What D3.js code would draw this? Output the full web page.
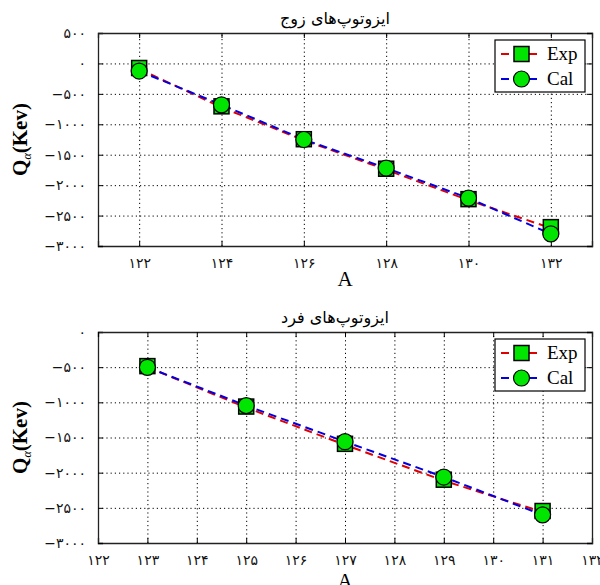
<!DOCTYPE html>
<html>
<head>
<meta charset="utf-8">
<script src="https://cdn.jsdelivr.net/npm/d3@7"></script>
<style>
body { margin: 0; background: #fff; }
svg { display: block; }
</style>
</head>
<body>
<script>
const svgWidth = 600
const svgHeight = 585

// even isotopes
const evenTitle = "ایزوتوپ‌های زوج"
const evenA = [122, 124, 126, 128, 130, 132]
const evenExp = [-75, -705, -1245, -1730, -2230, -2690]
const evenCal = [-125, -680, -1250, -1720, -2213, -2800]
const evenXTicks = [122, 124, 126, 128, 130, 132]
const evenYTicks = [500, 0, -500, -1000, -1500, -2000, -2500, -3000]

// odd isotopes
const oddTitle = "ایزوتوپ‌های فرد"
const oddA = [123, 125, 127, 129, 131]
const oddExp = [-485, -1060, -1590, -2100, -2545]
const oddCal = [-502, -1047, -1559, -2062, -2600]
const oddXTicks = [122, 123, 124, 125, 126, 127, 128, 129, 130, 131, 132]
const oddYTicks = [0, -500, -1000, -1500, -2000, -2500, -3000]

const colorExp = "#e00000"
const colorCal = "#0000e0"
const markerFill = "#00e600"

const faDigits = "۰۱۲۳۴۵۶۷۸۹"
const fa = n => String(n).replace(/\d/g, d => faDigits[d]).replace("-", "−")

const svg = d3.select("body").append("svg")
    .attr("width", svgWidth)
    .attr("height", svgHeight)

function drawPanel(opt) {
    const x = d3.scaleLinear().domain(opt.xDomain).range([opt.left, opt.right])
    const y = d3.scaleLinear().domain(opt.yDomain).range([opt.bottom, opt.top])
    const g = svg.append("g")

    // grid
    g.append("g")
        .attr("transform", `translate(0, ${opt.bottom})`)
        .call(d3.axisBottom(x).tickValues(opt.xTicks).tickSize(-(opt.bottom - opt.top)).tickFormat(""))
        .call(a => a.select(".domain").remove())
        .selectAll("line").attr("stroke", "#000").attr("stroke-dasharray", "1.2,3")
    g.append("g")
        .attr("transform", `translate(${opt.left}, 0)`)
        .call(d3.axisLeft(y).tickValues(opt.yTicks).tickSize(-(opt.right - opt.left)).tickFormat(""))
        .call(a => a.select(".domain").remove())
        .selectAll("line").attr("stroke", "#000").attr("stroke-dasharray", "1.2,3")

    // axes with ticks inside
    g.append("g")
        .attr("transform", `translate(0, ${opt.bottom})`)
        .call(d3.axisBottom(x).tickValues(opt.xTicks).tickSize(-5).tickPadding(12).tickFormat(fa))
    g.append("g")
        .attr("transform", `translate(${opt.left}, 0)`)
        .call(d3.axisLeft(y).tickValues(opt.yTicks).tickSize(-5).tickPadding(12).tickFormat(fa))
    g.append("g")
        .attr("transform", `translate(0, ${opt.top})`)
        .call(d3.axisTop(x).tickValues(opt.xTicks).tickSize(-5).tickFormat(""))
    g.append("g")
        .attr("transform", `translate(${opt.right}, 0)`)
        .call(d3.axisRight(y).tickValues(opt.yTicks).tickSize(-5).tickFormat(""))
    g.selectAll(".domain").attr("stroke", "#222").attr("stroke-width", 1.3)
    g.selectAll(".tick text")
        .attr("font-family", "DejaVu Sans, sans-serif")
        .attr("font-size", 14)
        .attr("fill", "#111")
        .attr("direction", "ltr")

    // lines
    const lineOf = vals => d3.line().x((d, i) => x(opt.a[i])).y(d => y(d))(vals)
    g.append("path")
        .attr("d", lineOf(opt.exp))
        .attr("fill", "none")
        .attr("stroke", colorExp)
        .attr("stroke-width", 2)
        .attr("stroke-dasharray", "8,5")
        .attr("transform", "translate(0,1)")
    g.append("path")
        .attr("d", lineOf(opt.cal))
        .attr("fill", "none")
        .attr("stroke", colorCal)
        .attr("stroke-width", 2)
        .attr("stroke-dasharray", "8,5")

    // markers
    g.selectAll(".sq").data(opt.exp).join("rect")
        .attr("x", (d, i) => x(opt.a[i]) - 7.5)
        .attr("y", d => y(d) - 7.5)
        .attr("width", 15)
        .attr("height", 15)
        .attr("fill", markerFill)
        .attr("stroke", "#000")
        .attr("stroke-width", 1.5)
    g.selectAll(".ci").data(opt.cal).join("circle")
        .attr("cx", (d, i) => x(opt.a[i]))
        .attr("cy", d => y(d))
        .attr("r", 8)
        .attr("fill", markerFill)
        .attr("stroke", "#000")
        .attr("stroke-width", 1.2)

    // title
    g.append("text")
        .attr("x", 335)
        .attr("y", opt.top - 9)
        .attr("text-anchor", "middle")
        .attr("font-family", "DejaVu Sans, sans-serif")
        .attr("font-size", 16)
        .text(opt.title)

    // x label
    g.append("text")
        .attr("x", 345)
        .attr("y", opt.bottom + opt.xLabelGap)
        .attr("text-anchor", "middle")
        .attr("font-family", "Liberation Serif, serif")
        .attr("font-size", 21)
        .text("A")

    // y label
    const yl = g.append("text")
        .attr("transform", `translate(27, ${(opt.top + opt.bottom) / 2}) rotate(-90)`)
        .attr("text-anchor", "middle")
        .attr("font-family", "Liberation Serif, serif")
        .attr("font-weight", "bold")
        .attr("font-size", 21)
    yl.append("tspan").text("Q")
    yl.append("tspan").attr("font-size", 12).attr("font-style", "italic").attr("font-weight", "normal").attr("dy", 4).text("α")
    yl.append("tspan").attr("dy", -4).text("(Kev)")

    // legend
    const lx = 495, ly = opt.top + 7
    const leg = g.append("g").attr("transform", `translate(${lx}, ${ly})`)
    leg.append("rect")
        .attr("width", 90).attr("height", 52)
        .attr("fill", "#fff").attr("stroke", "#000").attr("stroke-width", 1.2)
    const items = [
        {name: "Exp", color: colorExp, shape: "sq"},
        {name: "Cal", color: colorCal, shape: "ci"}
    ]
    items.forEach((it, i) => {
        const cy = 14 + i * 25
        leg.append("line")
            .attr("x1", 6).attr("x2", 46).attr("y1", cy).attr("y2", cy)
            .attr("stroke", it.color).attr("stroke-width", 2).attr("stroke-dasharray", "8,6")
        if (it.shape === "sq") {
            leg.append("rect").attr("x", 19).attr("y", cy - 7.5).attr("width", 15).attr("height", 15)
                .attr("fill", markerFill).attr("stroke", "#000").attr("stroke-width", 1.5)
        } else {
            leg.append("circle").attr("cx", 26.5).attr("cy", cy).attr("r", 8)
                .attr("fill", markerFill).attr("stroke", "#000").attr("stroke-width", 1.2)
        }
        leg.append("text")
            .attr("x", 52).attr("y", cy + 6)
            .attr("font-family", "Liberation Serif, serif")
            .attr("font-size", 19)
            .text(it.name)
    })
}

drawPanel({
    title: evenTitle, a: evenA, exp: evenExp, cal: evenCal,
    xTicks: evenXTicks, yTicks: evenYTicks,
    xDomain: [121, 133], yDomain: [-3000, 500],
    left: 98, right: 592, top: 33, bottom: 246, xLabelGap: 40
})

drawPanel({
    title: oddTitle, a: oddA, exp: oddExp, cal: oddCal,
    xTicks: oddXTicks, yTicks: oddYTicks,
    xDomain: [122, 132], yDomain: [-3000, 0],
    left: 98, right: 592, top: 332, bottom: 543, xLabelGap: 45
})
</script>
</body>
</html>
